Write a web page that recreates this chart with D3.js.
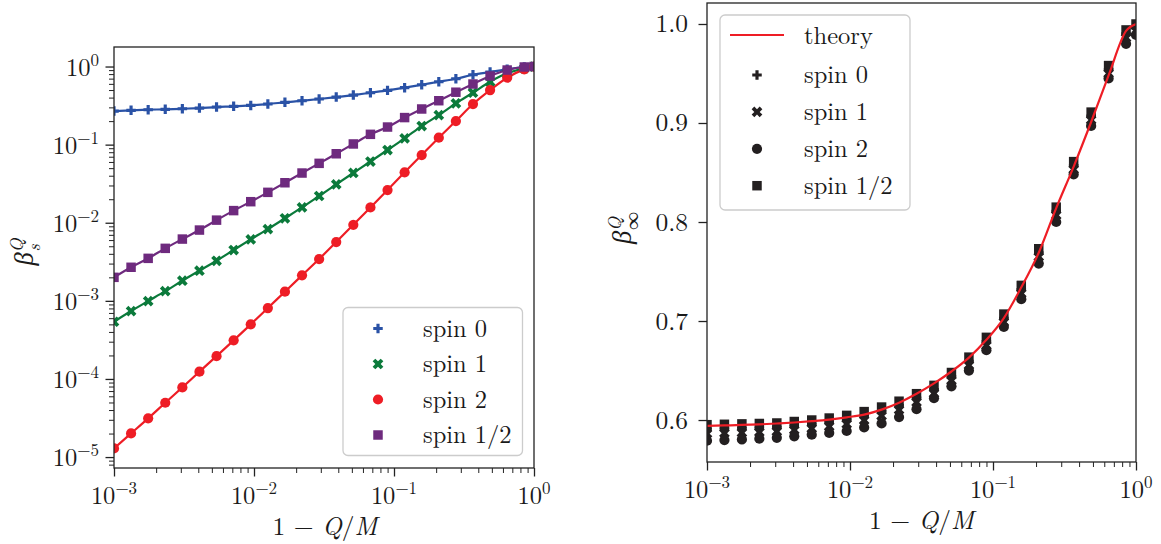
<!DOCTYPE html>
<html><head><meta charset="utf-8">
<script src="https://cdn.jsdelivr.net/npm/d3@7"></script>
<style>
body{margin:0;background:#fff}
</style>
</head><body>
<svg id="c" width="1161" height="544"></svg>
<script>
// ---------- DATA ----------
const xVals = [0.001, 0.001324, 0.001754, 0.002323, 0.003078, 0.004077, 0.005401, 0.007155, 0.00948, 0.01256,
  0.01663, 0.02203, 0.02919, 0.03867, 0.05122, 0.06786, 0.0899, 0.1191, 0.1577, 0.2089,
  0.2767, 0.3665, 0.4856, 0.6432, 0.8521, 1.0];

// left panel: beta_s^Q
const spin0L = [0.269, 0.275, 0.280, 0.283, 0.288, 0.294, 0.303, 0.309, 0.318, 0.331,
  0.348, 0.365, 0.384, 0.406, 0.431, 0.462, 0.495, 0.536, 0.585, 0.638,
  0.698, 0.785, 0.851, 0.920, 0.986, 1.0];
const spin1L = [5.40e-4, 7.40e-4, 9.93e-4, 1.33e-3, 1.81e-3, 2.43e-3, 3.26e-3, 4.47e-3, 6.12e-3, 8.30e-3,
  1.14e-2, 1.57e-2, 2.20e-2, 3.10e-2, 4.34e-2, 6.08e-2, 8.53e-2, 0.1205, 0.173, 0.239,
  0.338, 0.462, 0.638, 0.818, 0.948, 1.0];
const spin2L = [1.29e-5, 2.01e-5, 3.13e-5, 4.96e-5, 7.80e-5, 1.24e-4, 1.96e-4, 3.12e-4, 5.00e-4, 8.09e-4,
  1.31e-3, 2.12e-3, 3.43e-3, 5.66e-3, 9.42e-3, 1.57e-2, 2.62e-2, 4.42e-2, 7.36e-2, 0.1226,
  0.2005, 0.331, 0.500, 0.719, 0.920, 1.0];
const spinHalfL = [2.00e-3, 2.69e-3, 3.50e-3, 4.70e-3, 6.18e-3, 8.06e-3, 1.08e-2, 1.43e-2, 1.86e-2, 2.45e-2,
  3.25e-2, 4.33e-2, 5.76e-2, 7.64e-2, 0.102, 0.1355, 0.168, 0.222, 0.286, 0.365,
  0.469, 0.597, 0.756, 0.902, 0.986, 1.0];

// right panel: beta_inf^Q
const theoryR = [0.5940, 0.5945, 0.5950, 0.5956, 0.5965, 0.5975, 0.5988, 0.6004, 0.6027, 0.6055,
  0.6105, 0.6175, 0.6265, 0.6370, 0.6490, 0.6630, 0.6810, 0.7030, 0.7340, 0.7690,
  0.8140, 0.8560, 0.9010, 0.9480, 0.9930, 1.0000];
const spin0R = [0.5905, 0.5910, 0.5914, 0.5919, 0.5926, 0.5940, 0.5956, 0.5976, 0.6002, 0.6040,
  0.6085, 0.6145, 0.6222, 0.6308, 0.6438, 0.6592, 0.6792, 0.7028, 0.7318, 0.7688,
  0.8108, 0.8570, 0.9070, 0.9540, 0.9900, 0.9960];
const spin1R = [0.5862, 0.5867, 0.5872, 0.5877, 0.5884, 0.5898, 0.5914, 0.5934, 0.5960, 0.5997,
  0.6042, 0.6102, 0.6180, 0.6268, 0.6398, 0.6552, 0.6752, 0.6988, 0.7278, 0.7648,
  0.8068, 0.8530, 0.9030, 0.9500, 0.9860, 0.9930];
const spin2R = [0.5791, 0.5797, 0.5804, 0.5811, 0.5820, 0.5835, 0.5852, 0.5870, 0.5889, 0.5925,
  0.5966, 0.6030, 0.6110, 0.6220, 0.6340, 0.6500, 0.6705, 0.6940, 0.7220, 0.7580,
  0.8000, 0.8480, 0.8970, 0.9450, 0.9800, 0.9890];
const spinHalfR = [0.5953, 0.5957, 0.5961, 0.5965, 0.5970, 0.5985, 0.6000, 0.6020, 0.6047, 0.6085,
  0.6131, 0.6190, 0.6266, 0.6350, 0.6480, 0.6635, 0.6835, 0.7070, 0.7360, 0.7730,
  0.8150, 0.8610, 0.9110, 0.9580, 0.9940, 1.0000];

const xTickExps = [-3, -2, -1, 0];
const yTickExpsL = [-5, -4, -3, -2, -1, 0];
const yTicksR = [0.6, 0.7, 0.8, 0.9, 1.0];
const seriesNames = ["spin 0", "spin 1", "spin 2", "spin 1/2"];
const theoryName = "theory";

// ---------- STYLE ----------
const FONT = '"Latin Modern Roman", "Liberation Serif", serif';
const FS = 24.5, FS_SUP = 17, FS_TITLE = 25.5;
const colors = {s0: "#2a52a6", s1: "#0b7a3b", s2: "#ee1d25", sh: "#6e2a7e", dark: "#231f20", red: "#ee1d25"};
const axisColor = "#222";
const textColor = "#1a1a1a";

const svg = d3.select("#c");
const L = {x0: 114, x1: 534, y0: 47, y1: 468};
const R = {x0: 707, x1: 1136, y0: 3, y1: 462};

const xL = d3.scaleLog().domain([1e-3, 1]).range([L.x0, L.x1]);
const yL = d3.scaleLog().domain([Math.pow(10, -5.14), Math.pow(10, 0.25)]).range([L.y1, L.y0]);
const xR = d3.scaleLog().domain([1e-3, 1]).range([R.x0, R.x1]);
const yR = d3.scaleLinear().domain([0.5576, 1.0212]).range([R.y1, R.y0]);

function minorLog(expLo, expHi, dom) {
  const out = [];
  for (let e = expLo; e <= expHi; e++) for (let m = 2; m <= 9; m++) {
    const v = m * Math.pow(10, e);
    if (v > dom[0] && v < dom[1]) out.push(v);
  }
  return out;
}

const defs = svg.append("defs");
defs.append("clipPath").attr("id", "clipL").append("rect")
  .attr("x", L.x0).attr("y", L.y0).attr("width", L.x1 - L.x0).attr("height", L.y1 - L.y0);
defs.append("clipPath").attr("id", "clipR").append("rect")
  .attr("x", R.x0).attr("y", R.y0).attr("width", R.x1 - R.x0).attr("height", R.y1 - R.y0);

function styleAxis(g, w) {
  g.select(".domain").remove();
  g.selectAll(".tick line").attr("stroke", axisColor).attr("stroke-width", w);
  g.selectAll(".tick text").remove();
}

function pow10Label(g, x, y, e, anchor) {
  const t = g.append("text").attr("x", x).attr("y", y).attr("text-anchor", anchor)
    .attr("font-size", FS);
  t.append("tspan").text("10");
  t.append("tspan").attr("font-size", FS_SUP).attr("dy", -10).text((e < 0 ? "\u2212" : "") + Math.abs(e));
}

const sym = {
  plus: d3.symbol().type(d3.symbolCross).size(50),
  x: d3.symbol().type(d3.symbolCross).size(72),
  circle: d3.symbol().type(d3.symbolCircle).size(82),
  square: d3.symbol().type(d3.symbolSquare).size(90)
};
function drawMarker(g, kind, cx, cy, color) {
  return g.append("path").attr("d", sym[kind]()).attr("fill", color)
    .attr("transform", `translate(${cx},${cy})` + (kind === "x" ? " rotate(45)" : ""));
}

function xTitle(g, cx, y) {
  const xt = g.append("text").attr("x", cx).attr("y", y).attr("text-anchor", "middle").attr("font-size", FS_TITLE);
  xt.append("tspan").text("1 \u2212 ");
  xt.append("tspan").attr("font-style", "italic").text("Q");
  xt.append("tspan").text("/");
  xt.append("tspan").attr("font-style", "italic").text("M");
}

// ---------- LEFT PANEL ----------
{
  const g = svg.append("g");
  const xMajor = xTickExps.map(e => Math.pow(10, e));
  const gx = g.append("g").attr("transform", `translate(0,${L.y1})`)
    .call(d3.axisBottom(xL).tickValues(xMajor).tickSize(8.5).tickFormat(""));
  styleAxis(gx, 1.3);
  const gxm = g.append("g").attr("transform", `translate(0,${L.y1})`)
    .call(d3.axisBottom(xL).tickValues(minorLog(-3, -1, xL.domain())).tickSize(5).tickFormat(""));
  styleAxis(gxm, 1.0);
  const gy = g.append("g").attr("transform", `translate(${L.x0},0)`)
    .call(d3.axisLeft(yL).tickValues(yTickExpsL.map(e => Math.pow(10, e))).tickSize(8.5).tickFormat(""));
  styleAxis(gy, 1.3);
  const gym = g.append("g").attr("transform", `translate(${L.x0},0)`)
    .call(d3.axisLeft(yL).tickValues(minorLog(-6, 0, yL.domain())).tickSize(5).tickFormat(""));
  styleAxis(gym, 1.0);

  xTickExps.forEach(e => pow10Label(g, xL(Math.pow(10, e)), L.y1 + 35.5, e, "middle"));
  yTickExpsL.forEach(e => pow10Label(g, L.x0 - 15, yL(Math.pow(10, e)) + 9, e, "end"));

  const plot = g.append("g").attr("clip-path", "url(#clipL)");
  const series = [
    {v: spin0L, c: colors.s0, k: "plus"},
    {v: spin1L, c: colors.s1, k: "x"},
    {v: spin2L, c: colors.s2, k: "circle"},
    {v: spinHalfL, c: colors.sh, k: "square"}
  ];
  const line = d3.line().x(d => xL(d[0])).y(d => yL(d[1])).curve(d3.curveMonotoneX);
  series.forEach(s => {
    plot.append("path").datum(xVals.map((x, i) => [x, s.v[i]]))
      .attr("d", line).attr("fill", "none").attr("stroke", s.c).attr("stroke-width", 2.2);
  });
  series.forEach(s => {
    xVals.forEach((x, i) => drawMarker(plot, s.k, xL(x), yL(s.v[i]), s.c));
  });

  g.append("rect").attr("x", L.x0).attr("y", L.y0).attr("width", L.x1 - L.x0).attr("height", L.y1 - L.y0)
    .attr("fill", "none").attr("stroke", axisColor).attr("stroke-width", 1.3);

  const lg = g.append("g");
  lg.append("rect").attr("x", 343).attr("y", 307.5).attr("width", 179.5).attr("height", 148).attr("rx", 5)
    .attr("fill", "#fff").attr("fill-opacity", 0.8).attr("stroke", "#cccccc").attr("stroke-width", 1.3);
  series.forEach((s, i) => {
    const yy = 328.5 + i * 35.5;
    drawMarker(lg, s.k, 378, yy, s.c);
    lg.append("text").attr("x", 423).attr("y", yy + 8).attr("font-size", FS).text(seriesNames[i]);
  });

  xTitle(g, 325, 535);

  const yt = g.append("text").attr("transform", "translate(33,252) rotate(-90)")
    .attr("text-anchor", "middle").attr("font-size", FS_TITLE + 1);
  yt.append("tspan").attr("font-style", "italic").text("\u03B2");
  yt.append("tspan").attr("font-style", "italic").attr("font-size", 18).attr("dy", -10).text("Q");
  yt.append("tspan").attr("font-style", "italic").attr("font-size", 18).attr("dx", -13).attr("dy", 17).text("s");
}

// ---------- RIGHT PANEL ----------
{
  const g = svg.append("g");
  const xMajor = xTickExps.map(e => Math.pow(10, e));
  const gx = g.append("g").attr("transform", `translate(0,${R.y1})`)
    .call(d3.axisBottom(xR).tickValues(xMajor).tickSize(8.5).tickFormat(""));
  styleAxis(gx, 1.3);
  const gxm = g.append("g").attr("transform", `translate(0,${R.y1})`)
    .call(d3.axisBottom(xR).tickValues(minorLog(-3, -1, xR.domain())).tickSize(5).tickFormat(""));
  styleAxis(gxm, 1.0);
  const gy = g.append("g").attr("transform", `translate(${R.x0},0)`)
    .call(d3.axisLeft(yR).tickValues(yTicksR).tickSize(8.5).tickFormat(""));
  styleAxis(gy, 1.3);

  xTickExps.forEach(e => pow10Label(g, xR(Math.pow(10, e)), R.y1 + 35.5, e, "middle"));
  yTicksR.forEach(v => g.append("text").attr("x", R.x0 - 19).attr("y", yR(v) + 8.5)
    .attr("text-anchor", "end").attr("font-size", FS + 1).text(d3.format(".1f")(v)));

  const plot = g.append("g").attr("clip-path", "url(#clipR)");
  const series = [
    {v: spin0R, k: "plus"},
    {v: spin1R, k: "x"},
    {v: spin2R, k: "circle"},
    {v: spinHalfR, k: "square"}
  ];
  series.forEach(s => {
    xVals.forEach((x, i) => drawMarker(plot, s.k, xR(x), yR(s.v[i]), colors.dark));
  });
  const line = d3.line().x(d => xR(d[0])).y(d => yR(d[1])).curve(d3.curveMonotoneX);
  plot.append("path").datum(xVals.map((x, i) => [x, theoryR[i]]))
    .attr("d", line).attr("fill", "none").attr("stroke", colors.red).attr("stroke-width", 2.2);

  g.append("rect").attr("x", R.x0).attr("y", R.y0).attr("width", R.x1 - R.x0).attr("height", R.y1 - R.y0)
    .attr("fill", "none").attr("stroke", axisColor).attr("stroke-width", 1.3);

  const lg = g.append("g");
  lg.append("rect").attr("x", 720).attr("y", 15).attr("width", 190).attr("height", 195).attr("rx", 5)
    .attr("fill", "#fff").attr("fill-opacity", 0.8).attr("stroke", "#cccccc").attr("stroke-width", 1.3);
  lg.append("line").attr("x1", 730).attr("x2", 784).attr("y1", 35).attr("y2", 35)
    .attr("stroke", colors.red).attr("stroke-width", 2.2);
  lg.append("text").attr("x", 804).attr("y", 44).attr("font-size", FS).text(theoryName);
  series.forEach((s, i) => {
    const yy = 75 + i * 36.9;
    drawMarker(lg, s.k, 757, yy, colors.dark);
    lg.append("text").attr("x", 804).attr("y", yy + 8).attr("font-size", FS).text(seriesNames[i]);
  });

  xTitle(g, 921.5, 529);

  const yt = g.append("text").attr("transform", "translate(631,228) rotate(-90)")
    .attr("text-anchor", "middle").attr("font-size", FS_TITLE + 1);
  yt.append("tspan").attr("font-style", "italic").text("\u03B2");
  yt.append("tspan").attr("font-style", "italic").attr("font-size", 18).attr("dy", -10).text("Q");
  yt.append("tspan").attr("font-size", 18).attr("dx", -13).attr("dy", 17).text("\u221E");
}

svg.selectAll("text").style("font-family", FONT).style("fill", textColor);
</script>
</body></html>
